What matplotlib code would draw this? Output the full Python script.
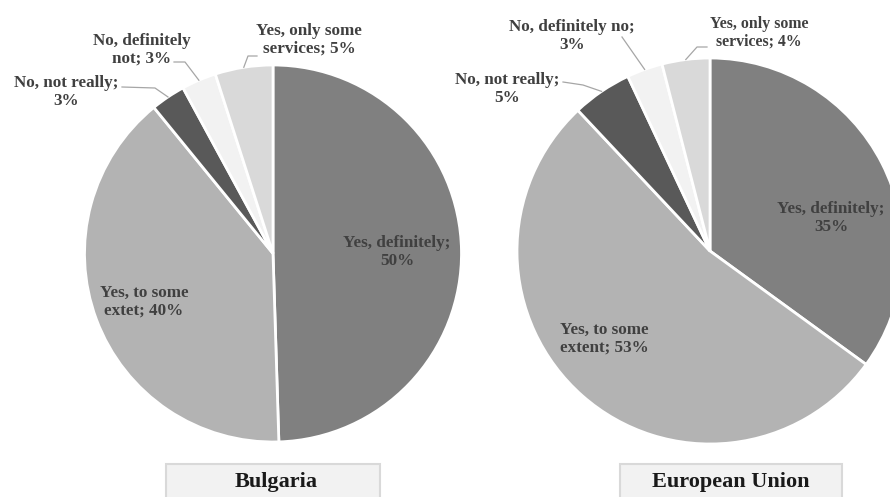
import numpy as np
import matplotlib
matplotlib.use('Agg')
import matplotlib.pyplot as plt
from matplotlib.patches import Rectangle

plt.rcParams['font.family'] = ['Liberation Serif', 'DejaVu Serif']
plt.rcParams['font.weight'] = 'bold'

# data
countries = ['Bulgaria', 'European Union']
answers_bg = ['Yes, definitely', 'Yes, to some\nextet', 'No, not really',
              'No, definitely\nnot', 'Yes, only some\nservices']
answers_eu = ['Yes, definitely', 'Yes, to some\nextent', 'No, not really',
              'No, definitely no', 'Yes, only some\nservices']
values_bg = [50, 40, 3, 3, 5]
values_eu = [35, 53, 5, 3, 4]
colors = ['#808080', '#b3b3b3', '#595959', '#f2f2f2', '#d9d9d9']

W, H = 890, 497
TXT = '#404040'


def py(y):
    # pixel row -> data y (axes runs bottom-up)
    return H - y


fig = plt.figure(figsize=(W / 100, H / 100), dpi=100)
ax = fig.add_axes([0, 0, 1, 1])

# pie geometry in pixels: centre x, centre y, radius
pies = [
    dict(vals=values_bg, names=answers_bg, cx=273, cy=253.5, r=188.5,
         fmt=['{};\n{}%', '{}; {}%', '{};\n{}%', '{}; {}%', '{}; {}%'],
         # label centre, font size, leader start, leader elbow
         lab=[((397, 252), 12.3, None, None),
              ((144, 302), 12.3, None, None),
              ((66, 92), 12.3, (122, 87), (155, 88)),
              ((142, 50), 12.3, (174, 62), (185, 62)),
              ((309, 40), 12.3, (257, 56), (248, 56))],
         box=(166, 380), title_x=276),
    dict(vals=values_eu, names=answers_eu, cx=710, cy=251, r=193,
         fmt=['{};\n{}%', '{}; {}%', '{};\n{}%', '{};\n{}%', '{}; {}%'],
         lab=[((831, 218), 12.3, None, None),
              ((604, 339), 12.3, None, None),
              ((507, 89), 12.3, (563, 82), (583, 85)),
              ((572, 36), 12.3, (622, 37), None),
              ((759, 33), 11.4, (707, 47), (697, 47))],
         box=(620, 842), title_x=731),
]

for p, country in zip(pies, countries):
    wedges, _ = ax.pie(p['vals'], colors=colors, startangle=90, counterclock=False,
                       center=(p['cx'], py(p['cy'])), radius=p['r'],
                       wedgeprops=dict(edgecolor='white', linewidth=2))
    for w, name, v, fmt, (pos, fs, start, elbow) in zip(wedges, p['names'], p['vals'],
                                                     p['fmt'], p['lab']):
        ax.text(pos[0], py(pos[1]), fmt.format(name, v), ha='center', va='center',
                fontsize=fs, color=TXT, fontweight='bold', linespacing=1.15)
        if start is not None:
            mid = np.deg2rad((w.theta1 + w.theta2) / 2)
            rim = (p['cx'] + p['r'] * np.cos(mid), py(p['cy']) + p['r'] * np.sin(mid))
            pts = [start] + ([elbow] if elbow else [])
            xs = [q[0] for q in pts] + [rim[0]]
            ys = [py(q[1]) for q in pts] + [rim[1]]
            ax.plot(xs, ys, color='#a6a6a6', lw=0.9)

    # country caption box
    x0, x1 = p['box']
    ax.add_patch(Rectangle((x0, py(H + 5)), x1 - x0, H + 5 - 464,
                           facecolor='#f2f2f2', edgecolor='#d9d9d9', lw=1.5))
    ax.text(p['title_x'], py(482), country, ha='center', va='center',
            fontsize=16, fontweight='bold', color='#1a1a1a')

ax.set_xlim(0, W)
ax.set_ylim(0, H)
ax.set_aspect('auto')
ax.axis('off')

fig.savefig('out.png', dpi=100)
